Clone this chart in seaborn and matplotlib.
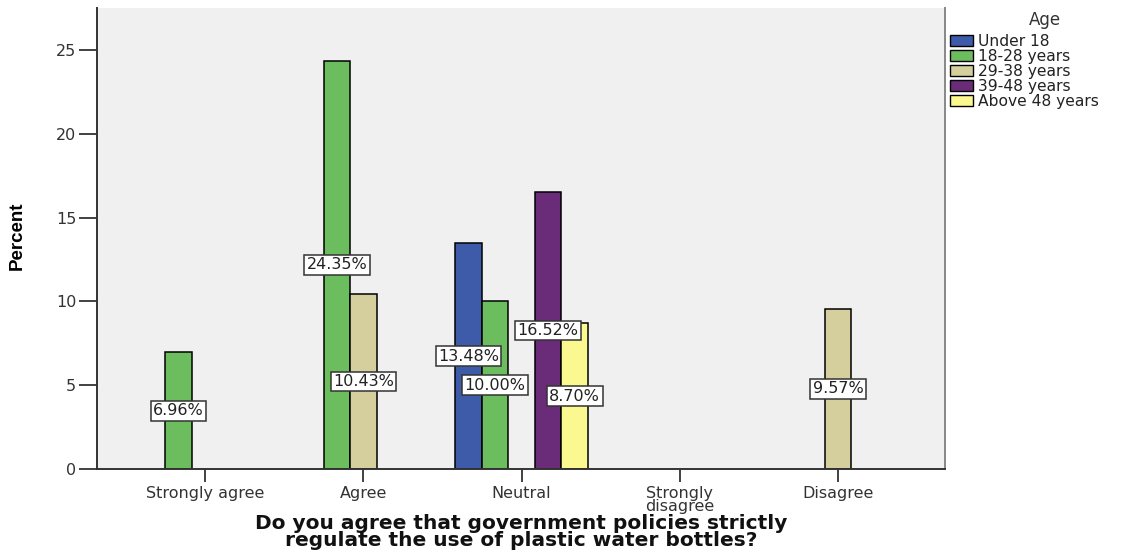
import matplotlib
matplotlib.use("Agg")
import matplotlib.pyplot as plt
import pandas as pd
import seaborn as sns

# categories on the x axis, in display order
categories = ["Strongly agree", "Agree", "Neutral", "Strongly disagree", "Disagree"]
tick_labels = ["Strongly agree", "Agree", "Neutral", "Strongly\ndisagree", "Disagree"]
age_groups = ["Under 18", "18-28 years", "29-38 years", "39-48 years", "Above 48 years"]

# only the non-empty bars of the SPSS chart
bar_category = ["Strongly agree", "Agree", "Agree", "Neutral", "Neutral",
                "Neutral", "Neutral", "Disagree"]
bar_age = ["18-28 years", "18-28 years", "29-38 years", "Under 18", "18-28 years",
           "39-48 years", "Above 48 years", "29-38 years"]
bar_percent = [6.96, 24.35, 10.43, 13.48, 10.00, 16.52, 8.70, 9.57]

palette = ["#3D5BA9", "#6CBD5E", "#D5CF9E", "#6A2B78", "#FAF88E"]


def main():
    sns.set_theme(style="white")
    plt.rcParams["font.family"] = ["DejaVu Sans"]

    df = pd.DataFrame({"answer": bar_category, "Age": bar_age, "percent": bar_percent})

    fig = plt.figure(figsize=(11.39, 5.54), dpi=100)
    ax = fig.add_axes([0.0852, 0.1534, 0.7445, 0.8322])
    ax.set_facecolor("#F0F0F0")

    sns.barplot(
        data=df, x="answer", y="percent", hue="Age",
        order=categories, hue_order=age_groups, palette=palette,
        width=0.84, dodge=True, errorbar=None,
        edgecolor="black", linewidth=1.1, saturation=1, ax=ax,
    )

    # value labels in white boxes at half bar height
    for cont in ax.containers:
        ax.bar_label(
            cont, fmt="{:.2f}%", label_type="center", fontsize=11.5, color="#222222",
            bbox=dict(boxstyle="square,pad=0.15", facecolor="white",
                      edgecolor="#333333", linewidth=1.1),
        )

    ax.set_xlim(-0.684, 4.677)
    ax.set_ylim(0, 27.5)
    ax.set_yticks([0, 5, 10, 15, 20, 25])
    ax.set_xticks(range(len(categories)))
    ax.set_xticklabels(tick_labels, linespacing=0.9)
    ax.tick_params(axis="both", direction="out", width=1.3, color="#333333",
                   labelsize=11.5, labelcolor="#333333", left=True, bottom=True)
    ax.tick_params(axis="y", length=13, pad=2)
    ax.tick_params(axis="x", length=9, pad=3)

    ax.spines["top"].set_visible(False)
    for side in ["left", "bottom", "right"]:
        ax.spines[side].set_color("#333333")
        ax.spines[side].set_linewidth(1.4)
    ax.spines["right"].set_color("#888888")

    ax.set_ylabel("Percent", fontsize=13.5, fontweight="bold",
                  family=["Liberation Sans Narrow", "Liberation Sans"], color="black")
    ax.yaxis.set_label_coords(-0.084, 0.505)
    ax.set_xlabel("Do you agree that government policies strictly\n"
                  "regulate the use of plastic water bottles?",
                  fontsize=14.5, fontweight="bold", color="#111111", linespacing=0.88)
    ax.xaxis.set_label_coords(0.5, -0.097)
    ax.xaxis.label.set_va("top")

    sns.move_legend(
        ax, loc="upper left", bbox_to_anchor=(1.0059, 0.944), frameon=False,
        title=None, fontsize=11.2,
        handlelength=1.45, handleheight=0.65, handletextpad=0.35,
        labelspacing=0.0, borderaxespad=0, borderpad=0,
    )
    leg = ax.get_legend()
    for t in leg.get_texts():
        t.set_color("#222222")
    for h in leg.legend_handles:
        h.set_edgecolor("black")
        h.set_linewidth(1.0)
    fig.text(1045 / 1139, 1 - 20 / 554, "Age", ha="center", va="center",
             fontsize=12, color="#333333")

    fig.savefig("out.png", dpi=100)
    plt.close(fig)


if __name__ == "__main__":
    main()
